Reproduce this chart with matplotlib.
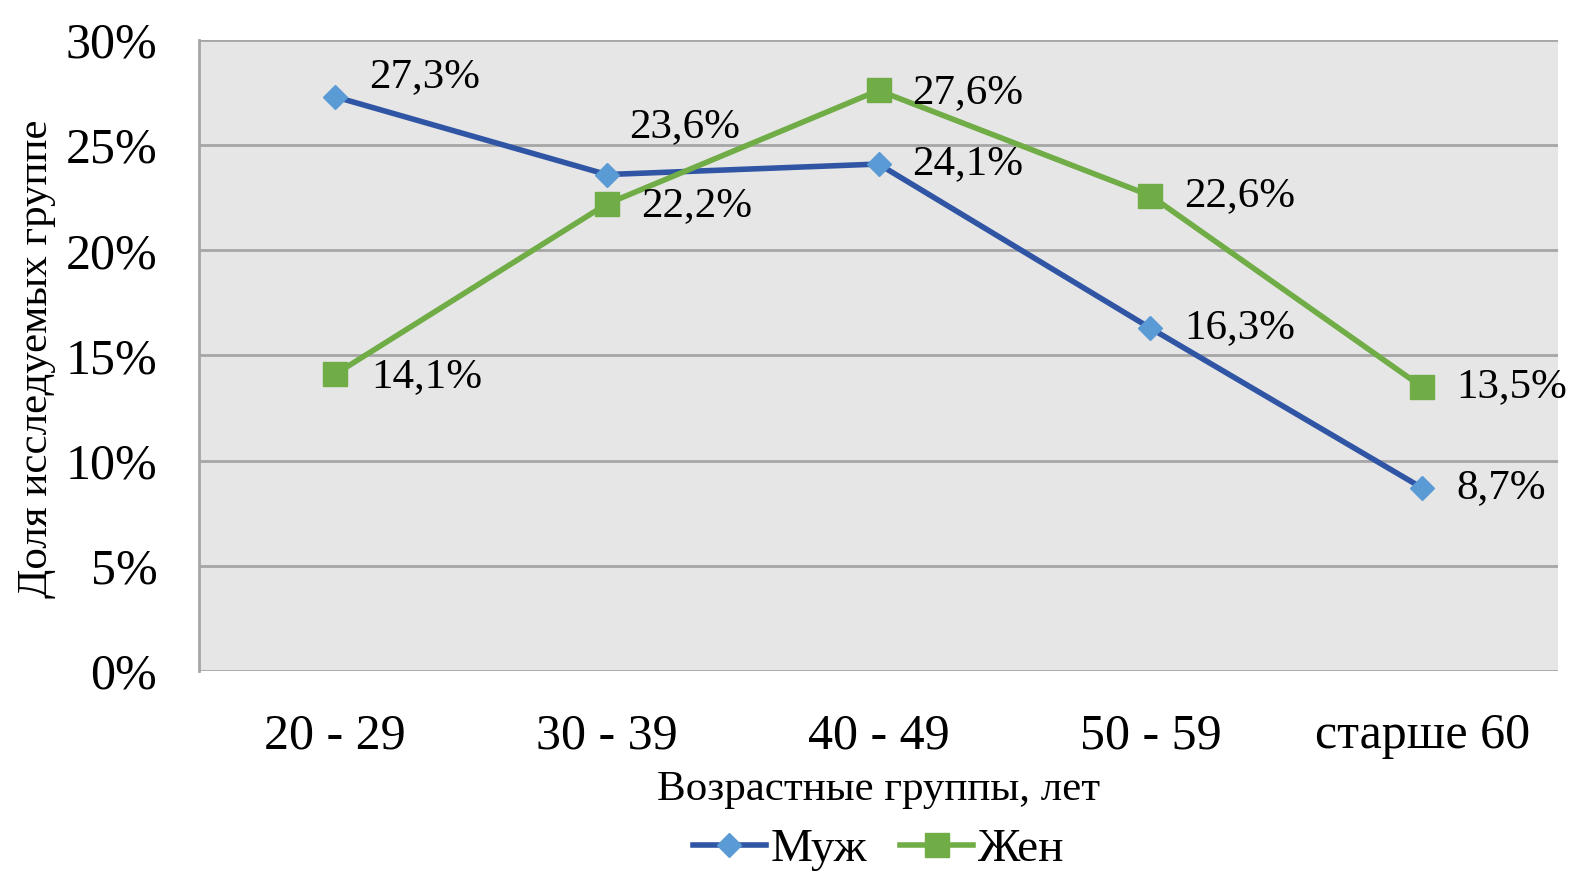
import matplotlib
matplotlib.use('Agg')
import matplotlib.pyplot as plt

# --- данные ---
groups = ["20 - 29", "30 - 39", "40 - 49", "50 - 59", "старше 60"]
men = [27.3, 23.6, 24.1, 16.3, 8.7]
women = [14.1, 22.2, 27.6, 22.6, 13.5]
yticks = [0, 5, 10, 15, 20, 25, 30]

# смещения подписей (пиксели)
men_off = [(34, 20), (22, 48), (34, 0), (34, 0), (34, 0)]
women_off = [(36, -2), (34, -2), (34, -2), (34, 0), (34, 0)]

plt.rcParams['font.family'] = ['Liberation Serif', 'DejaVu Serif']

fig = plt.figure(figsize=(15.73, 8.74), dpi=100)
ax = fig.add_axes([0.1265, 0.2323, 0.864, 0.722])
ax.set_facecolor('#e6e6e6')

x = list(range(len(groups)))
ax.plot(x, men, color='#2f55a4', lw=4, marker='D', ms=12,
        mfc='#5b9bd5', mec='#5b9bd5', label='Муж', zorder=3)
ax.plot(x, women, color='#70ad47', lw=4, marker='s', ms=17,
        mfc='#70ad47', mec='#70ad47', label='Жен', zorder=3)

for xi, v, off in zip(x, men, men_off):
    ax.annotate(f"{v:.1f}%".replace('.', ','), (xi, v), xytext=off,
                textcoords='offset pixels', ha='left', va='center', fontsize=31)
for xi, v, off in zip(x, women, women_off):
    ax.annotate(f"{v:.1f}%".replace('.', ','), (xi, v), xytext=off,
                textcoords='offset pixels', ha='left', va='center', fontsize=31)

ax.set_xlim(-0.5, len(groups) - 0.5)
ax.set_ylim(0, 30)
ax.set_yticks(yticks)
ax.set_yticklabels([f"{t}%" for t in yticks], fontsize=36)
ax.set_xticks(x)
ax.set_xticklabels(groups, fontsize=36)
ax.tick_params(axis='y', length=0, pad=30)
ax.tick_params(axis='x', length=0, pad=30)
ax.grid(axis='y', color='#a6a6a6', lw=2)
ax.set_axisbelow(True)
for s in ['top', 'right', 'bottom']:
    ax.spines[s].set_visible(False)
ax.spines['left'].set_color('#a6a6a6')
ax.spines['left'].set_linewidth(2)

ax.set_xlabel("Возрастные группы, лет", fontsize=31, labelpad=8)
ax.set_ylabel("Доля исследуемых группе", fontsize=31)
ax.yaxis.set_label_coords(-0.105, 0.495)

ax.legend(loc='center', bbox_to_anchor=(0.5, -0.283), ncol=2, frameon=False,
          fontsize=34, handlelength=1.55, handletextpad=0.1, columnspacing=0.7,
          borderpad=0)

fig.savefig("out.png")
plt.close(fig)
